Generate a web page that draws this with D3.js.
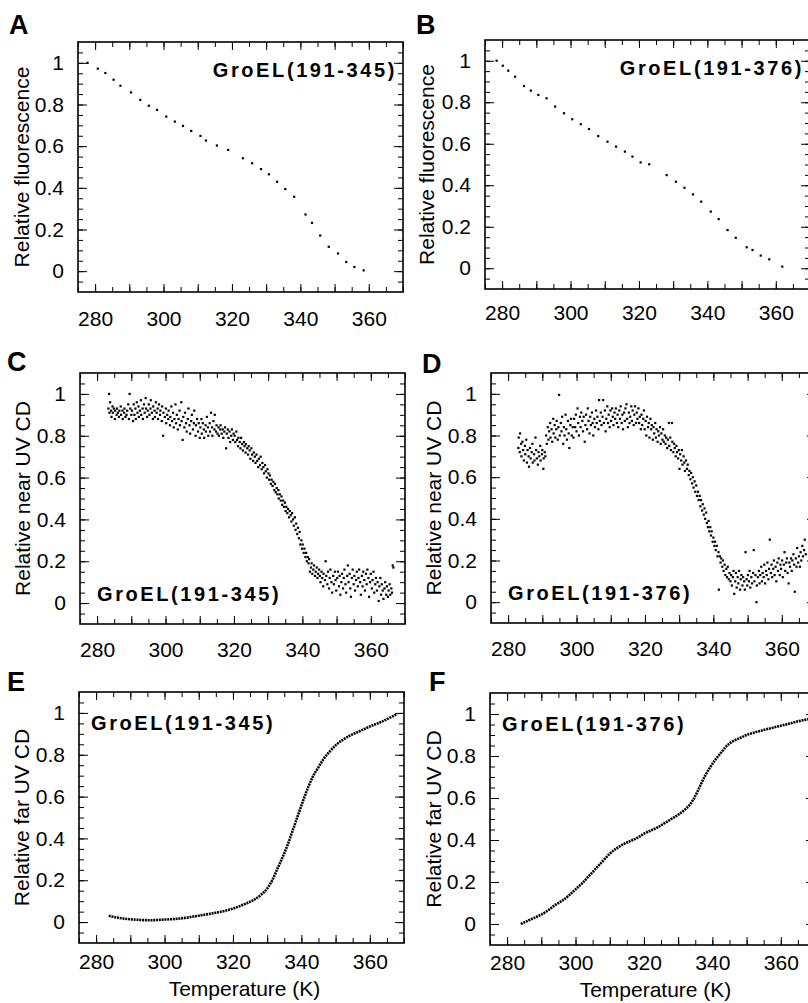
<!DOCTYPE html>
<html>
<head>
<meta charset="utf-8">
<title>GroEL fragments - thermal unfolding</title>
<style>
  body { margin: 0; background: #fff; }
  svg { display: block; font-family: "Liberation Sans", Arial, sans-serif; }
  .frame { fill: none; stroke: #000; stroke-width: 1.6; }
  .ticks line { stroke: #000; stroke-width: 1; }
  .ticks text { font-size: 21px; fill: #000; font-family: "Liberation Sans", Arial, sans-serif; }
  .title { font-size: 21px; }
  .letter { font-size: 27px; font-weight: bold; }
  .tag { font-size: 20px; font-weight: bold; letter-spacing: 2.6px; }
</style>
</head>
<body>
<div id="figure"></div>
<script src="https://d3js.org/d3.v7.min.js"></script>
<script>
// tick labels shared by every panel
const xTicks = [280, 300, 320, 340, 360];
const yTicks = [0, 0.2, 0.4, 0.6, 0.8, 1];

// A: fluorescence, GroEL(191-345)
const fluor345 = [[277.8,1.00],[280.8,.972],[283.0,.951],[285.4,.919],[287.4,.890],[290.5,.858],[293.2,.822],[295.7,.794],[298.1,.774],[300.8,.742],[303.3,.718],[305.7,.697],[308.1,.673],[310.8,.649],[312.4,.627],[315.6,.603],[318.9,.582],[323.2,.542],[325.9,.518],[328.5,.490],[330.8,.465],[333.2,.429],[335.6,.394],[338.2,.357],[341.5,.272],[343.4,.232],[345.8,.171],[348.3,.117],[351.0,.085],[353.4,.044],[355.8,.020],[358.5,.004]];

// B: fluorescence, GroEL(191-376)
const fluor376 = [[278.4,1.00],[280.2,.976],[281.8,.952],[283.8,.923],[286.4,.878],[288.4,.856],[290.6,.835],[293.0,.819],[295.5,.779],[298.1,.747],[300.5,.718],[303.0,.694],[305.4,.671],[308.1,.637],[310.8,.610],[313.3,.586],[315.9,.562],[318.1,.538],[320.5,.510],[323.0,.501],[328.1,.449],[330.8,.417],[333.3,.388],[335.8,.356],[338.2,.321],[341.0,.273],[343.3,.237],[345.9,.184],[348.3,.147],[351.5,.101],[353.2,.088],[355.6,.061],[358.1,.043],[361.9,.008]];

// C: near UV CD, GroEL(191-345)
const nearUV345 = [
  [283.3,.93],[283.5,1.0],[283.6,.91],[283.8,.96],[284.1,.92],[284.2,.89],[284.5,.94],[284.6,.91],[284.9,.93],[285.2,.88],[285.3,.92],[285.7,.90],[285.8,.93],[286.1,.91],[286.4,.89],[286.5,.92],[286.9,.94],[287.0,.90],[287.4,.92],[287.5,.88],[287.9,.91],[288.0,.93],[288.3,.89],[288.6,.90],[288.8,.92],[289.1,.95],[289.3,.88],[289.5,1.0],[289.7,.93],[290.0,.90],
  [290.2,.92],[290.5,.87],[290.7,.95],[290.9,.90],[291.2,.93],[291.3,.88],[291.6,.96],[291.8,.91],[292.1,.94],[292.2,.89],[292.5,.92],[292.8,.97],[292.9,.90],[293.3,.93],[293.4,.88],[293.7,.95],[293.9,.91],[294.2,.98],[294.3,.93],[294.6,.89],[294.8,.92],[295.1,.95],[295.3,.90],[295.6,.93],[295.7,.97],[296.0,.91],[296.3,.88],[296.4,.94],[296.8,.92],[296.9,.89],[297.2,.96],[297.4,.91],[297.7,.93],[297.8,.88],[298.1,.95],[298.4,.90],[298.5,.92],[298.9,.87],[299.0,.94],[299.3,.80],[299.4,.91],[299.8,.89],
  [300.1,.93],[300.2,.86],[300.5,.90],[300.8,.88],[300.9,.92],[301.3,.85],[301.4,.89],[301.7,.94],[301.9,.87],[302.2,.91],[302.4,.84],[302.6,.88],[302.9,.95],[303.1,.86],[303.3,.90],[303.6,.83],[303.8,.88],[304.1,.92],[304.2,.85],[304.6,.96],[304.7,.87],[305.0,.78],[305.2,.89],[305.5,.84],[305.7,.91],[306.0,.86],[306.2,.82],[306.5,.88],[306.7,.93],[307.0,.85],[307.2,.81],[307.5,.87],[307.7,.90],[308.0,.83],[308.3,.86],[308.4,.92],[308.8,.80],[308.9,.85],[309.2,.88],[309.5,.82],[309.7,.86],[310.0,.79],
  [310.2,.84],[310.5,.88],[310.6,.81],[310.9,.86],[311.2,.83],[311.3,.79],[311.7,.85],[311.8,.82],[312.1,.89],[312.4,.84],[312.5,.80],[312.9,.86],[313.0,.82],[313.3,.91],[313.6,.84],[313.7,.80],[314.0,.87],[314.3,.83],[314.4,.90],[314.8,.82],[314.9,.85],[315.2,.81],[315.5,.84],[315.6,.80],[316.0,.83],[316.1,.85],[316.4,.81],[316.7,.83],[316.9,.79],[317.2,.82],[317.4,.84],[317.7,.74],[317.9,.81],[318.2,.83],[318.4,.79],[318.7,.82],[318.9,.77],[319.2,.80],[319.4,.83],[319.7,.78],[319.9,.81],
  [320.2,.80],[320.4,.77],[320.7,.82],[320.9,.78],[321.2,.75],[321.3,.79],[321.7,.77],[321.9,.74],[322.1,.79],[322.4,.76],[322.6,.73],[322.9,.77],[323.1,.75],[323.4,.72],[323.5,.76],[323.9,.74],[324.1,.71],[324.3,.75],[324.6,.73],[324.8,.69],[325.1,.74],[325.3,.71],[325.6,.68],[325.8,.72],[326.1,.70],[326.3,.67],[326.6,.71],[326.8,.68],[327.1,.65],[327.3,.69],[327.6,.66],[327.8,.70],[328.1,.64],[328.3,.67],[328.6,.65],[328.8,.62],[329.1,.66],[329.3,.63],[329.6,.60],[329.8,.64],
  [330.1,.62],[330.3,.59],[330.5,.61],[330.8,.57],[331.0,.59],[331.3,.56],[331.5,.58],[331.8,.54],[332.0,.57],[332.2,.53],[332.5,.55],[332.7,.52],[333.0,.54],[333.1,.50],[333.4,.52],[333.7,.49],[333.9,.51],[334.1,.47],[334.4,.49],[334.6,.46],[334.9,.48],[335.1,.44],[335.3,.46],[335.6,.43],[335.8,.45],[336.1,.41],[336.3,.44],[336.6,.42],[336.8,.39],[337.0,.43],[337.3,.40],[337.5,.37],[337.8,.41],[338.0,.35],[338.2,.38],[338.5,.33],[338.7,.36],[339.0,.31],[339.2,.34],[339.4,.28],[339.7,.30],[339.9,.26],[340.1,.28],[340.4,.24],[340.6,.26],[340.9,.22],[341.1,.24],[341.3,.20],[341.6,.22],[341.8,.19],[342.0,.21],[342.2,.15],[342.5,.17],[342.7,.19],[342.9,.14],[343.2,.16],[343.4,.18],[343.7,.13],[343.9,.15],[344.2,.17],[344.4,.12],[344.6,.14],[344.9,.16],
  [345.1,.13],[345.3,.10],[345.6,.15],[345.8,.12],[346.1,.08],[346.2,.14],[346.6,.11],[346.8,.20],[347.0,.13],[347.3,.09],[347.5,.15],[347.8,.07],[348.0,.12],[348.2,.16],[348.5,.10],[348.7,.05],[349.0,.13],[349.2,.09],[349.5,.15],[349.7,.11],[349.9,.06],[350.2,.12],[350.4,.15],[350.7,.08],[350.9,.13],[351.1,.04],[351.4,.10],[351.6,.14],[351.9,.07],[352.1,.12],[352.3,.16],[352.6,.09],[352.8,.05],[353.1,.13],[353.3,.18],[353.5,.10],[353.8,.14],[354.0,.07],[354.2,.03],[354.5,.12],[354.7,.16],[355.0,.09],[355.2,.13],[355.4,.06],[355.7,.11],[355.9,.15],[356.2,.08],[356.4,.12],[356.6,.16],[356.9,.10],[357.1,.04],[357.4,.13],[357.6,.08],[357.8,.15],[358.1,.11],[358.3,.06],[358.6,.14],[358.8,.09],[359.0,.16],[359.3,.12],[359.5,.03],[359.8,.10],[360.0,.14],[360.3,.07],[360.5,.11],[360.8,.15],[361.0,.05],[361.3,.09],[361.5,.12],[361.8,.06],[362.0,.10],[362.3,.01],[362.5,.08],[362.8,.12],[363.0,.04],[363.2,.09],[363.5,.06],[363.7,.02],[364.0,.07],[364.2,.10],[364.5,.04],[364.7,.08],[365.0,.03],[365.2,.06],[365.5,.09],[365.7,.04],[366.0,.07],[366.2,.05],[366.4,.18],[366.6,.17]];

// D: near UV CD, GroEL(191-376)
const nearUV376 = [
  [283.0,.74],[283.1,.79],[283.4,.72],[283.5,.81],[283.8,.76],[283.9,.70],[284.2,.77],[284.4,.73],[284.6,.68],[284.9,.75],[285.0,.71],[285.3,.78],[285.5,.67],[285.7,.73],[286.0,.70],[286.1,.65],[286.4,.74],[286.6,.69],[286.9,.72],[287.1,.76],[287.2,.67],[287.6,.71],[287.7,.68],[288.0,.79],[288.2,.73],[288.4,.69],[288.7,.66],[288.9,.72],[289.1,.70],[289.4,.75],[289.5,.68],[289.9,.71],[290.0,.73],[290.3,.64],[290.4,.69],[290.7,.72],[290.9,.70],
  [291.1,.80],[291.3,.76],[291.6,.84],[291.8,.78],[292.0,.82],[292.3,.86],[292.4,.79],[292.7,.83],[292.9,.77],[293.2,.88],[293.3,.81],[293.6,.85],[293.8,.79],[294.1,.83],[294.2,.87],[294.5,.78],[294.7,.84],[294.9,.995],[295.1,.80],[295.4,.86],[295.6,.82],[295.8,.89],[296.1,.76],[296.3,.84],[296.5,.80],[296.8,.90],[297.0,.83],[297.2,.78],[297.5,.87],[297.7,.81],[297.9,.74],[298.2,.85],[298.4,.88],[298.6,.80],[298.9,.84],
  [299.1,.79],[299.3,.88],[299.6,.84],[299.8,.90],[300.0,.82],[300.3,.93],[300.5,.86],[300.7,.80],[301.0,.89],[301.2,.84],[301.4,.91],[301.7,.87],[301.9,.82],[302.1,.89],[302.4,.77],[302.6,.85],[302.8,.90],[303.1,.83],[303.3,.93],[303.5,.87],[303.8,.81],[304.0,.89],[304.2,.85],[304.5,.91],[304.7,.86],[304.9,.80],[305.2,.88],[305.4,.84],[305.7,.92],[305.9,.86],[306.1,.89],[306.4,.83],[306.6,.97],[306.8,.87],
  [307.1,.91],[307.3,.85],[307.6,.89],[307.8,.97],[308.0,.86],[308.3,.92],[308.5,.82],[308.7,.88],[309.0,.94],[309.2,.86],[309.4,.90],[309.7,.84],[309.9,.92],[310.1,.87],[310.4,.93],[310.6,.89],[310.8,.85],[311.1,.91],[311.3,.88],[311.5,.93],[311.8,.86],[312.0,.90],[312.2,.84],[312.5,.92],[312.7,.88],[312.9,.94],[313.2,.86],[313.4,.90],[313.6,.83],[313.9,.91],[314.1,.87],[314.3,.93],[314.6,.95],[314.8,.88],[315.0,.84],[315.3,.91],[315.5,.86],[315.7,.89],[316.0,.94],[316.2,.87],[316.4,.92],[316.7,.85],[316.9,.90],[317.1,.94],[317.4,.86],[317.6,.91],[317.8,.88],
  [318.1,.93],[318.3,.86],[318.5,.89],[318.8,.83],[319.0,.90],[319.2,.85],[319.5,.88],[319.7,.92],[319.9,.83],[320.2,.87],[320.4,.80],[320.6,.89],[320.9,.84],[321.1,.86],[321.3,.79],[321.6,.88],[321.8,.83],[322.0,.85],[322.3,.78],[322.5,.84],[322.7,.81],[323.0,.86],[323.2,.79],[323.4,.83],[323.7,.77],[323.9,.82],[324.1,.80],[324.4,.84],[324.6,.76],[324.8,.81],[325.1,.78],[325.3,.83],[325.5,.77],[325.8,.80],
  [326.0,.76],[326.2,.79],[326.5,.74],[326.7,.78],[327.0,.86],[327.1,.75],[327.4,.79],[327.6,.73],[327.9,.86],[328.0,.77],[328.3,.72],[328.5,.76],[328.7,.74],[329.0,.70],[329.2,.75],[329.4,.72],[329.7,.69],[329.9,.73],[330.1,.64],[330.3,.71],[330.6,.68],[330.8,.73],[331.0,.66],[331.3,.70],[331.5,.67],[331.7,.63],
  [332.0,.68],[332.3,.64],[332.5,.66],[332.8,.61],[333.0,.63],[333.3,.59],[333.5,.62],[333.8,.57],[334.0,.60],[334.2,.55],[334.5,.58],[334.7,.53],[335.0,.56],[335.2,.51],[335.5,.53],[335.7,.49],[336.0,.51],[336.2,.46],[336.4,.49],[336.7,.44],[336.9,.47],[337.2,.42],[337.4,.45],[337.6,.40],[337.9,.43],[338.1,.38],[338.4,.36],[338.6,.39],[338.8,.34],[339.1,.36],[339.3,.32],[339.5,.34],[339.8,.29],[340.0,.31],[340.3,.27],[340.5,.29],[340.7,.25],[341.0,.27],[341.2,.22],[341.5,.24],[341.6,.06],[341.9,.22],[342.1,.19],[342.3,.21],[342.6,.17],[342.8,.20],[343.0,.15],[343.3,.18],[343.5,.13],[343.8,.16],[344.0,.12],[344.2,.17],[344.5,.11],[344.7,.14],[345.0,.10],
  [345.2,.13],[345.4,.08],[345.7,.12],[345.9,.15],[346.1,.04],[346.4,.10],[346.6,.14],[346.8,.07],[347.1,.12],[347.3,.09],[347.5,.15],[347.8,.06],[348.0,.11],[348.2,.13],[348.5,.08],[348.7,.12],[349.0,.10],[349.2,.06],[349.4,.24],[349.7,.11],[349.9,.08],[350.1,.13],[350.4,.10],[350.6,.15],[350.8,.07],[351.1,.12],[351.3,.09],[351.6,.14],[351.8,.25],[352.0,.10],[352.3,.13],[352.6,.00],[352.7,.08],
  [353.0,.12],[353.3,.15],[353.5,.09],[353.7,.13],[354.0,.17],[354.2,.10],[354.4,.14],[354.7,.12],[354.9,.18],[355.1,.09],[355.4,.15],[355.6,.13],[355.8,.19],[356.1,.11],[356.3,.16],[356.5,.30],[356.8,.14],[357.0,.18],[357.2,.12],[357.5,.16],[357.7,.20],[357.9,.13],[358.2,.17],[358.4,.10],[358.7,.19],[358.9,.15],[359.1,.21],[359.4,.13],[359.6,.18],[359.8,.16],[360.1,.20],[360.3,.12],[360.6,.18],[360.8,.24],[361.0,.15],[361.3,.19],[361.5,.21],[361.7,.14],[362.0,.09],[362.2,.19],[362.4,.17],[362.7,.21],[362.9,.15],[363.1,.20],[363.4,.23],[363.6,.18],[363.8,.05],[364.1,.21],[364.3,.17],[364.5,.26],[364.8,.19],[365.0,.22],[365.3,.17],[365.5,.24],[365.7,.20],[366.0,.27],[366.2,.22],[366.5,.25],[366.7,.30],[367.0,.23]];

// E: far UV CD, GroEL(191-345)
const farUV345 = [[283.7,.03],[286,.022],[289,.015],[292,.011],[296,.009],[300,.012],[303,.015],[306,.02],[309,.028],[312,.036],[315,.045],[318,.055],[321,.07],[324,.09],[326,.105],[328,.128],[330,.16],[331.5,.2],[333,.255],[334.5,.31],[336,.37],[337.5,.44],[339,.51],[340.5,.58],[342,.645],[343.5,.7],[345,.74],[346.5,.78],[348,.81],[350,.845],[352,.87],[354,.89],[356,.905],[358,.92],[360,.935],[362,.948],[364,.962],[366,.978],[368,.995]];

// F: far UV CD, GroEL(191-376)
const farUV376 = [[284,.0],[286,.015],[288,.03],[290,.045],[292,.065],[294,.09],[296,.11],[298,.135],[300,.165],[302,.195],[304,.23],[306,.265],[308,.30],[310,.335],[312,.36],[314,.38],[316,.395],[318,.41],[320,.43],[322,.445],[324,.46],[326,.48],[328,.5],[330,.52],[332,.545],[333.5,.57],[335,.61],[336.5,.66],[338,.71],[339.5,.75],[341,.785],[342.5,.815],[344,.845],[346,.87],[348,.885],[350,.9],[353,.915],[356,.928],[359,.94],[362,.952],[365,.965],[368,.975]];

const W = 325;
const panels = [
  {letter: 'A', lx: 9,   ly: 34,  x: 78,  y: 42,  h: 250, data: fluor345,  kind: 'dot',  ylab: 'Relative fluorescence', tcx: 22,  tag: 'GroEL(191-345)', where: 'tr', xpad: 19},
  {letter: 'B', lx: 416, ly: 34,  x: 485, y: 40,  h: 249, data: fluor376,  kind: 'dot',  ylab: 'Relative fluorescence', tcx: 427, tag: 'GroEL(191-376)', where: 'tr', xpad: 16},
  {letter: 'C', lx: 7,   ly: 371, x: 80,  y: 373, h: 251, data: nearUV345, kind: 'dot',  ylab: 'Relative near UV CD',   tcx: 23,  tag: 'GroEL(191-345)', where: 'bl', xpad: 18},
  {letter: 'D', lx: 422, ly: 373, x: 491, y: 373, h: 250, data: nearUV376, kind: 'dot',  ylab: 'Relative near UV CD',   tcx: 434, tag: 'GroEL(191-376)', where: 'bl', xpad: 18},
  {letter: 'E', lx: 7,   ly: 691, x: 79,  y: 692, h: 251, data: farUV345,  kind: 'line', ylab: 'Relative far UV CD',    tcx: 22,  tag: 'GroEL(191-345)', where: 'tl', xpad: 11, xlab: 'Temperature (K)', xly: 996},
  {letter: 'F', lx: 429, ly: 691, x: 490, y: 693, h: 252, data: farUV376,  kind: 'line', ylab: 'Relative far UV CD',    tcx: 434, tag: 'GroEL(191-376)', where: 'tl', xpad: 10, xlab: 'Temperature (K)', xly: 997}
];

const svg = d3.select('#figure').append('svg')
  .attr('width', 808)
  .attr('height', 1003);

const minorX = d3.range(275, 371, 5);
const majorX = d3.range(280, 370, 10);
const minorY = d3.range(-0.05, 1.06, 0.05);

panels.forEach(p => {
  const x = d3.scaleLinear().domain([275, 370]).range([0, W]);
  const y = d3.scaleLinear().domain([-0.1, 1.1]).range([p.h, 0]);
  const g = svg.append('g').attr('transform', `translate(${p.x},${p.y})`);

  // inward ticks on all four sides
  const strip = sel => sel.call(s => s.select('.domain').remove());
  const inward = [
    [d3.axisBottom(x), `translate(0,${p.h})`, minorX, 5, majorX, 8],
    [d3.axisTop(x), 'translate(0,0)', minorX, 5, majorX, 8],
    [d3.axisLeft(y), 'translate(0,0)', minorY, 5, yTicks, 9],
    [d3.axisRight(y), `translate(${W},0)`, minorY, 5, yTicks, 9]
  ];
  inward.forEach(([ax, tr, minor, ml, major, Ml]) => {
    g.append('g').attr('class', 'ticks').attr('transform', tr)
      .call(ax.tickValues(minor).tickSize(-ml).tickFormat('')).call(strip);
    g.append('g').attr('class', 'ticks').attr('transform', tr)
      .call(ax.tickValues(major).tickSize(-Ml).tickFormat('')).call(strip);
  });

  // tick labels
  g.append('g').attr('class', 'ticks').attr('transform', `translate(0,${p.h})`)
    .call(d3.axisBottom(x).tickValues(xTicks).tickSize(0).tickPadding(p.xpad).tickFormat(d3.format('d')))
    .call(strip);
  g.append('g').attr('class', 'ticks')
    .call(d3.axisLeft(y).tickValues(yTicks).tickSize(0).tickPadding(14).tickFormat(d => String(d)))
    .call(strip);

  // data
  if (p.kind === 'dot') {
    g.append('g').selectAll('rect')
      .data(p.data)
      .join('rect')
      .attr('x', d => x(d[0]) - 1.1)
      .attr('y', d => y(d[1]) - 1.1)
      .attr('width', 2.2)
      .attr('height', 2.2)
      .attr('fill', '#000');
  } else {
    const line = d3.line()
      .x(d => x(d[0]))
      .y(d => y(d[1]))
      .curve(d3.curveMonotoneX);
    g.append('path')
      .datum(p.data)
      .attr('d', line)
      .attr('fill', 'none')
      .attr('stroke', '#000')
      .attr('stroke-width', 2.6)
      .attr('stroke-dasharray', '2 0.8');
  }

  g.append('rect').attr('class', 'frame')
    .attr('width', W)
    .attr('height', p.h);

  // in-panel construct name
  const tag = g.append('text').attr('class', 'tag').text(p.tag);
  if (p.where === 'tr') tag.attr('x', W - 6).attr('y', 35).attr('text-anchor', 'end');
  if (p.where === 'bl') tag.attr('x', 17).attr('y', p.h - 23);
  if (p.where === 'tl') tag.attr('x', 12).attr('y', 38);

  // axis titles
  svg.append('text')
    .attr('class', 'title')
    .attr('transform', `translate(${p.tcx},${p.y + p.h / 2}) rotate(-90)`)
    .attr('text-anchor', 'middle')
    .attr('dy', '0.35em')
    .text(p.ylab);
  if (p.xlab) {
    svg.append('text')
      .attr('class', 'title')
      .attr('x', p.x + W / 2 + 3)
      .attr('y', p.xly)
      .attr('text-anchor', 'middle')
      .text(p.xlab);
  }

  svg.append('text')
    .attr('class', 'letter')
    .attr('x', p.lx)
    .attr('y', p.ly)
    .text(p.letter);
});
</script>
</body>
</html>
